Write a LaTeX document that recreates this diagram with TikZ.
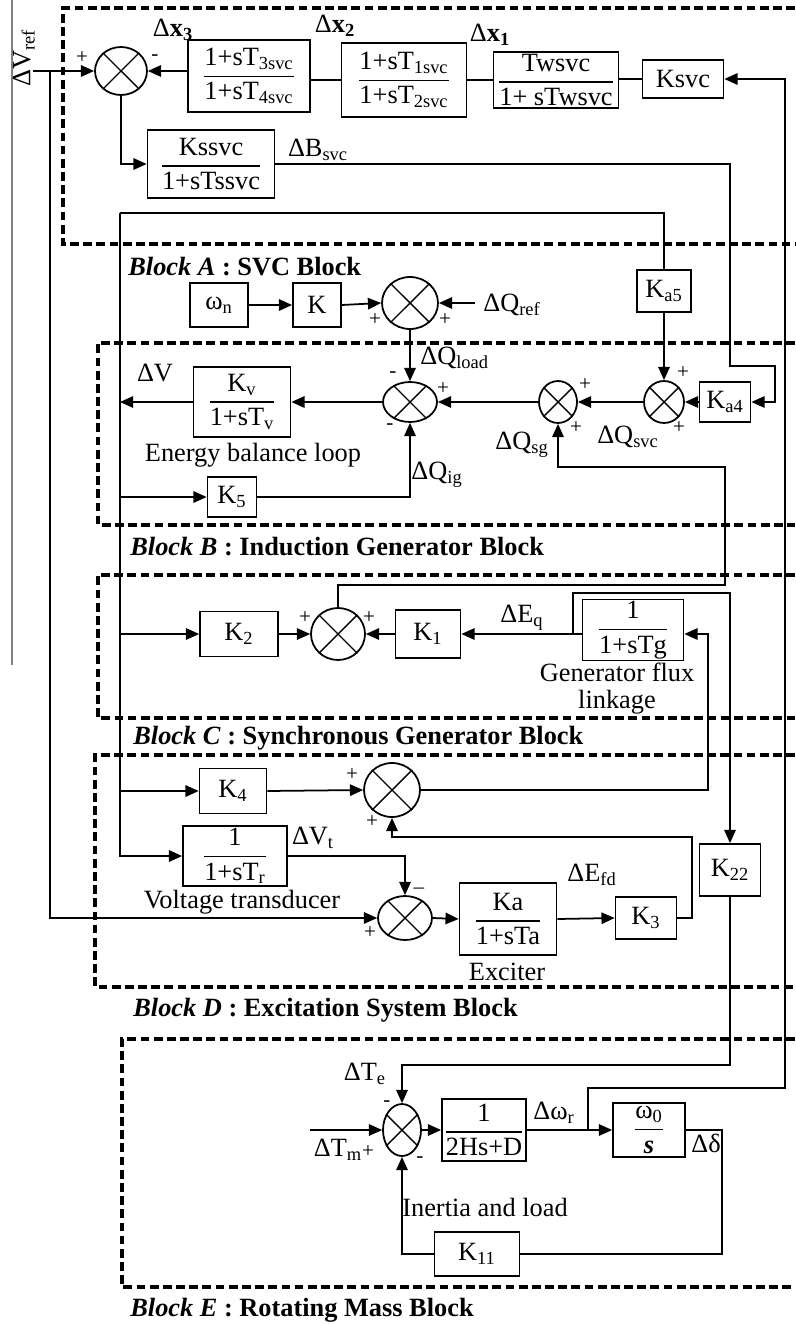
\documentclass[tikz,border=0pt]{standalone}
\usepackage{fontspec}
\setmainfont{Liberation Serif}
\usepackage{amsmath}
\usetikzlibrary{arrows.meta,shapes.geometric}

\newcommand{\blkfrac}[2]{$\genfrac{}{}{0.8pt}{0}{\text{#1}}{\text{#2}}$}
\newcommand{\blocklabel}[2]{\textbf{\textit{Block #1}}\textbf{ : #2}}

\tikzset{
  blk/.style={draw, line width=1pt, inner sep=1pt},
  sumnode/.style={draw, ellipse, line width=1pt, inner sep=0pt},
  sig/.style={line width=1pt},
  arr/.style={line width=1pt, -{Triangle[length=7.5pt,width=6.5pt]}},
  region/.style={line width=2pt, dash pattern=on 5pt off 2.5pt},
  sgn/.style={font=\fontsize{12}{14}\selectfont, inner sep=0pt},
  lbl/.style={inner sep=0pt},
}

\begin{document}
\begin{tikzpicture}[x=0.02cm, y=-0.02cm, every node/.style={font=\fontsize{15}{18}\selectfont}]
    \useasboundingbox (0,0) rectangle (795,1324);
    \draw[gray, line width=0.6pt] (12,0) -- (12,665);
    % Block frames
    \draw[region] (795,8) -- (63,8) -- (63,244) -- (795,244);
    \draw[region] (795,343) -- (98,343) -- (98,525) -- (795,525);
    \draw[region] (795,575) -- (98,575) -- (98,718) -- (795,718);
    \draw[region] (795,755) -- (95,755) -- (95,987) -- (795,987);
    \draw[region] (795,1039) -- (122,1039) -- (122,1287) -- (795,1287);
    \node[lbl, anchor=west] (labA) at (128,267) {\blocklabel{A}{SVC Block}};
    \node[lbl, anchor=west] (labB) at (130,547) {\blocklabel{B}{Induction Generator Block}};
    \node[lbl, anchor=west] (labC) at (133,738) {\blocklabel{C}{Synchronous Generator Block}};
    \node[lbl, anchor=west] (labD) at (133,1010) {\blocklabel{D}{Excitation System Block}};
    \node[lbl, anchor=west] (labE) at (130,1310) {\blocklabel{E}{Rotating Mass Block}};

    % SVC block
    \node[sumnode, minimum width=1.04cm, minimum height=0.96cm] (s1) at (121,71) {};
    \node[blk, minimum width=2.44cm, minimum height=1.44cm] (T3) at (249,76) {\blkfrac{1+sT\textsubscript{3svc}}{1+sT\textsubscript{4svc}}};
    \node[blk, minimum width=2.5cm, minimum height=1.48cm] (T1) at (404,80) {\blkfrac{1+sT\textsubscript{1svc}}{1+sT\textsubscript{2svc}}};
    \node[blk, minimum width=2.5cm, minimum height=1.12cm] (Tw) at (556,80) {\blkfrac{Twsvc}{1+ sTwsvc}};
    \node[blk, minimum width=1.62cm, minimum height=0.76cm] (Ksvc) at (683,79) {Ksvc};
    \node[blk, minimum width=2.54cm, minimum height=1.36cm] (Kssvc) at (211,164) {\blkfrac{Kssvc}{1+sTssvc}};
    \node[lbl, rotate=90] (vreflbl) at (24,58) {ΔV\textsubscript{ref}};
    \node[lbl] (x3) at (173,30) {Δ\textbf{x}\textsubscript{\textbf{3}}};
    \node[lbl] (x2) at (335,26) {Δ\textbf{x}\textsubscript{\textbf{2}}};
    \node[lbl] (x1) at (490,35) {Δ\textbf{x}\textsubscript{\textbf{1}}};
    \node[lbl] (bsvclbl) at (318,150) {ΔB\textsubscript{svc}};
    \node[sgn] (p1) at (82,58) {+};
    \node[sgn] (m1) at (155,58) {-};

    % Reactive power balance
    \node[blk, minimum width=1.16cm, minimum height=0.88cm] (wn) at (219,305) {ω\textsubscript{n}};
    \node[blk, minimum width=0.96cm, minimum height=0.88cm] (K) at (317,305) {K};
    \node[sumnode, minimum width=1.12cm, minimum height=1.04cm] (sq) at (410,303) {};
    \node[blk, minimum width=1.08cm, minimum height=0.84cm] (Ka5) at (664,291) {K\textsubscript{a5}};
    \node[sumnode, minimum width=1.08cm, minimum height=0.8cm] (sl) at (410,402) {};
    \node[sumnode, minimum width=0.76cm, minimum height=0.84cm] (ssg) at (558,402) {};
    \node[sumnode, minimum width=0.8cm, minimum height=0.84cm] (ssvc) at (664,402) {};
    \node[blk, minimum width=1.02cm, minimum height=0.8cm] (Ka4) at (725,402) {K\textsubscript{a4}};
    \node[blk, minimum width=1.94cm, minimum height=1.4cm] (Kv) at (242,402) {\blkfrac{K\textsubscript{v}}{1+sT\textsubscript{v}}};
    \node[blk, minimum width=0.98cm, minimum height=0.8cm] (K5) at (232,497) {K\textsubscript{5}};
    \node[lbl, anchor=west] (qreflbl) at (483,305) {ΔQ\textsubscript{ref}};
    \node[lbl, anchor=west] (qloadlbl) at (420,358) {ΔQ\textsubscript{load}};
    \node[lbl] (qsvclbl) at (628,437) {ΔQ\textsubscript{svc}};
    \node[lbl] (qsglbl) at (522,445) {ΔQ\textsubscript{sg}};
    \node[lbl] (qiglbl) at (437,475) {ΔQ\textsubscript{ig}};
    \node[lbl] (dvlbl) at (155,373) {ΔV};
    \node[lbl] (eblbl) at (253,455) {Energy balance loop};
    \node[sgn] (p2) at (375,320) {+};
    \node[sgn] (p3) at (445,320) {+};
    \node[sgn] (m2) at (393,375) {-};
    \node[sgn] (p4) at (443,389) {+};
    \node[sgn] (m3) at (390,427) {-};
    \node[sgn] (p5) at (585,385) {+};
    \node[sgn] (p6) at (576,428) {+};
    \node[sgn] (p7) at (683,373) {+};
    \node[sgn] (p8) at (679,428) {+};

    % Synchronous generator
    \node[blk, minimum width=1.56cm, minimum height=0.9cm] (K2) at (239,634) {K\textsubscript{2}};
    \node[sumnode, minimum width=1.08cm, minimum height=1.04cm] (sc) at (338,634) {};
    \node[blk, minimum width=1.3cm, minimum height=0.96cm] (K1) at (428,634) {K\textsubscript{1}};
    \node[blk, minimum width=2.02cm, minimum height=1.12cm] (Tg) at (633,630) {\blkfrac{1}{1+sTg}};
    \node[lbl] (eqlbl) at (522,618) {ΔE\textsubscript{q}};
    \node[lbl] (gf1) at (617,672) {Generator flux};
    \node[lbl] (gf2) at (617,702) {linkage};
    \node[sgn] (p9) at (305,618) {+};
    \node[sgn] (p10) at (369,618) {+};

    % Excitation system
    \node[blk, minimum width=1.34cm, minimum height=0.9cm] (K4) at (233,791) {K\textsubscript{4}};
    \node[sumnode, minimum width=1.12cm, minimum height=1.08cm] (sd1) at (392,790) {};
    \node[blk, minimum width=2.08cm, minimum height=1.2cm] (Tr) at (235,856) {\blkfrac{1}{1+sT\textsubscript{r}}};
    \node[sumnode, minimum width=1.08cm, minimum height=0.88cm] (sd2) at (405,918) {};
    \node[blk, minimum width=1.94cm, minimum height=1.44cm] (Ka) at (508,919) {\blkfrac{Ka}{1+sTa}};
    \node[blk, minimum width=1.22cm, minimum height=0.84cm] (K3) at (646,918) {K\textsubscript{3}};
    \node[blk, minimum width=1.22cm, minimum height=1.04cm] (K22) at (730,870) {K\textsubscript{22}};
    \node[lbl] (vtlbl) at (313,838) {ΔV\textsubscript{t}};
    \node[lbl] (vtrlbl) at (242,902) {Voltage transducer};
    \node[lbl] (efdlbl) at (592,875) {ΔE\textsubscript{fd}};
    \node[lbl] (exlbl) at (507,972) {Exciter};
    \node[sgn] (p11) at (352,775) {+};
    \node[sgn] (p12) at (372,822) {+};
    \node[sgn] (m4) at (419,891) {–};
    \node[sgn] (p13) at (370,933) {+};

    % Rotating mass
    \node[sumnode, minimum width=0.76cm, minimum height=1.04cm] (se) at (402,1130) {};
    \node[blk, minimum width=1.68cm, minimum height=1.24cm] (H) at (484,1130) {\blkfrac{1}{2Hs+D}};
    \node[blk, minimum width=1.44cm, minimum height=1.08cm] (w0) at (649,1130) {\blkfrac{ω\textsubscript{0}}{\textbf{\textit{s}}}};
    \node[blk, minimum width=1.7cm, minimum height=0.88cm] (K11) at (477,1254) {K\textsubscript{11}};
    \node[lbl] (telbl) at (365,1074) {ΔT\textsubscript{e}};
    \node[lbl] (tmlbl) at (338,1150) {ΔT\textsubscript{m}};
    \node[lbl] (wrlbl) at (554,1113) {Δω\textsubscript{r}};
    \node[lbl] (dlbl) at (706,1143) {Δδ};
    \node[lbl] (inlbl) at (485,1207) {Inertia and load};
    \node[sgn] (m5) at (387,1104) {-};
    \node[sgn] (p14) at (368,1152) {+};
    \node[sgn] (m6) at (420,1160) {-};

    % Crosses in the summing junctions
    \foreach \s in {s1,sq,sl,ssg,ssvc,sc,sd1,sd2,se}
        \draw[line width=0.8pt] (\s.45) -- (\s.225) (\s.135) -- (\s.315);

    % Bends
    \coordinate (vref) at (33,71);
    \coordinate (vrefbus) at (50,71);
    \coordinate (vbus) at (120,213);
    \coordinate (bsvc1) at (730,366);
    \coordinate (bsvc2) at (775,402);
    \coordinate (qref) at (475,303);
    \coordinate (qsg1) at (725,585);
    \coordinate (qsg2) at (558,467);
    \coordinate (eq) at (573,634);
    \coordinate (eqtop) at (730,593);
    \coordinate (efd) at (708,634);
    \coordinate (k3a) at (692,837);
    \coordinate (te) at (730,1065);
    \coordinate (tm) at (310,1130);
    \coordinate (wtap) at (588,1130);
    \coordinate (wbus) at (785,1088);
    \coordinate (dl) at (722,1254);

    % SVC connections
    \draw[arr] (vref) -- (s1.west);
    \draw[arr] (vrefbus) |- (sd2.west);
    \draw[arr] (T3.west |- s1.east) -- (s1.east);
    \draw[sig] (T1.west) -- (T1.west -| T3.east);
    \draw[sig] (Tw.west) -- (Tw.west -| T1.east);
    \draw[sig] (Ksvc.west) -- (Ksvc.west -| Tw.east);
    \draw[arr] (s1.south) |- (Kssvc.west);
    \draw[arr] (Kssvc.east) -| (bsvc1) -| (bsvc2) -- (Ka4.east);
    \draw[arr] (wtap) |- (wbus) |- (Ksvc.east);

    % Voltage bus
    \draw[sig] (vbus) -| (Ka5.north);
    \draw[arr] (vbus) |- (Tr.west);
    \draw[arr] (Kv.west) -- (Kv.west -| vbus);
    \draw[arr] (K5.west -| vbus) -- (K5.west);
    \draw[arr] (K2.west -| vbus) -- (K2.west);
    \draw[arr] (K4.west -| vbus) -- (K4.west);

    % Reactive power connections
    \draw[arr] (wn.east) -- (K.west);
    \draw[arr] (K.east) -- (sq.west);
    \draw[arr] (qref) -- (sq.east);
    \draw[arr] (sq.south) -- (sl.north);
    \draw[arr] (Ka5.south) -- (ssvc.north);
    \draw[arr] (Ka4.west) -- (ssvc.east);
    \draw[arr] (ssvc.west) -- (ssg.east);
    \draw[arr] (ssg.west) -- (sl.east);
    \draw[arr] (sl.west) -- (Kv.east);
    \draw[arr] (K5.east) -| (sl.south);
    \draw[arr] (sc.north) |- (qsg1) |- (qsg2) -- (ssg.south);

    % Generator connections
    \draw[arr] (K2.east) -- (sc.west);
    \draw[arr] (K1.west) -- (sc.east);
    \draw[arr] (Tg.west |- K1.east) -- (K1.east);
    \draw[arr] (eq) |- (eqtop) -- (K22.north);
    \draw[arr] (sd1.east) -| (efd) -- (efd -| Tg.east);

    % Exciter connections
    \draw[arr] (K4.east) -- (sd1.west);
    \draw[arr] (K3.east) -| (k3a) -| (sd1.south);
    \draw[arr] (Tr.east) -| (sd2.north);
    \draw[arr] (sd2.east) -- (Ka.west);
    \draw[arr] (Ka.east) -- (K3.west);

    % Rotating mass connections
    \draw[arr] (K22.south) -- (te) -| (se.north);
    \draw[arr] (tm) -- (se.west);
    \draw[arr] (se.east) -- (H.west);
    \draw[arr] (H.east) -- (w0.west);
    \draw[sig] (w0.east) -| (dl) -- (K11.east);
    \draw[arr] (K11.west) -| (se.south);
\end{tikzpicture}
\end{document}
